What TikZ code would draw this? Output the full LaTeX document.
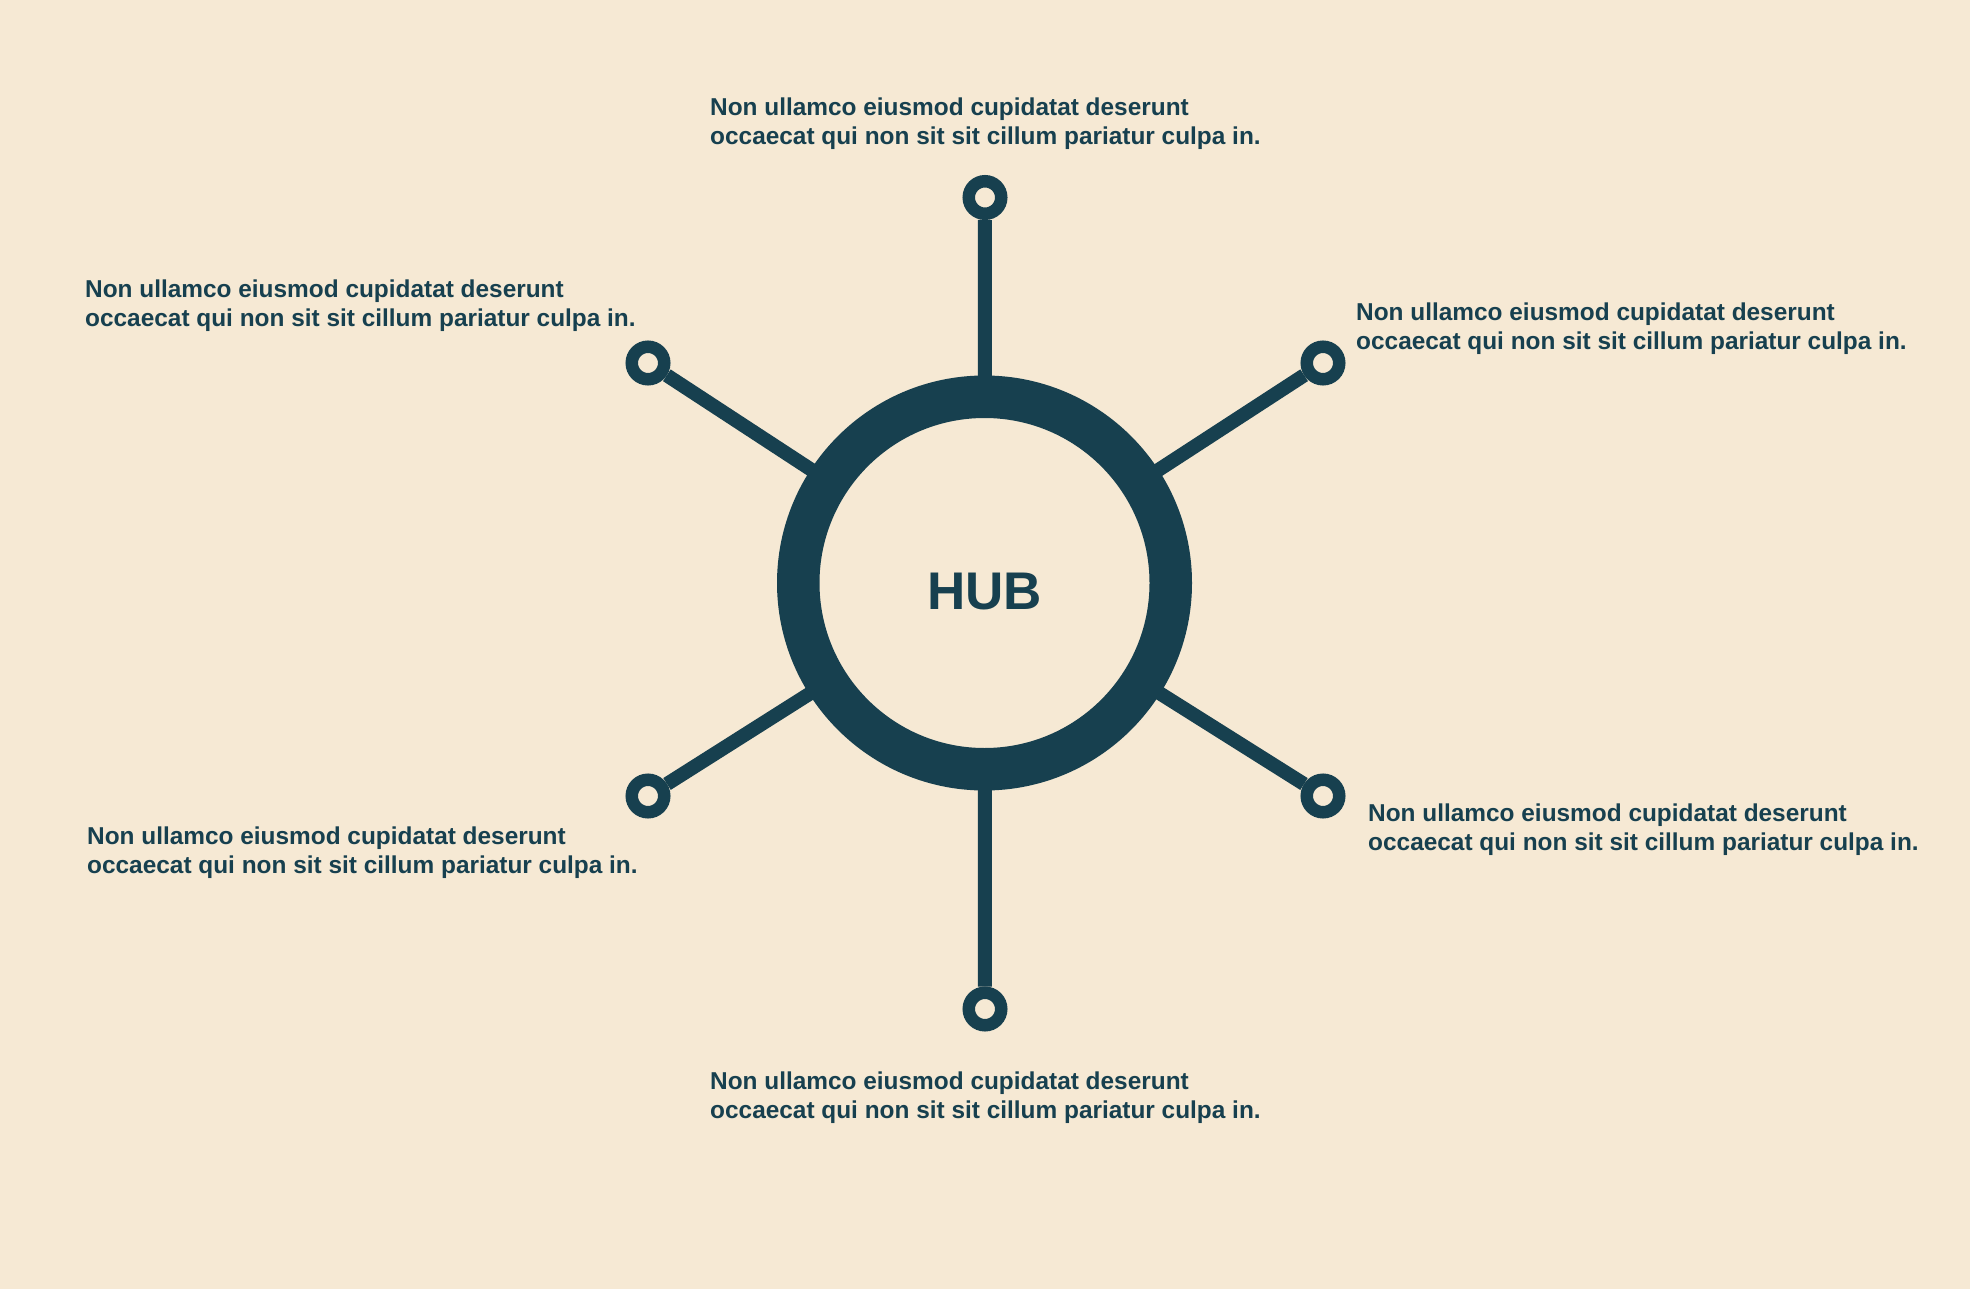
\documentclass[tikz,border=0pt]{standalone}
\usepackage{fontspec}
\setmainfont{Liberation Sans}
\definecolor{ink}{HTML}{17404F}
\definecolor{paper}{HTML}{F6E9D4}
\begin{document}
\begin{tikzpicture}[x=1pt,y=-1pt,
  hubring/.style={circle,draw=ink,fill=paper,line width=42.5pt,minimum size=372.5pt,inner sep=0pt},
  endring/.style={circle,draw=ink,fill=paper,line width=12.5pt,minimum size=32.5pt,inner sep=0pt},
  spoke/.style={draw=ink,line width=14pt},
  blurb/.style={anchor=west,align=left,text=ink,inner sep=0pt,font=\bfseries\fontsize{24.4}{29}\selectfont}]
  % canvas
  \fill[paper] (0,0) rectangle (1970,1289);
  \useasboundingbox (0,0) rectangle (1970,1289);

  % end points of the six spokes
  \node[endring] (pt) at (985,197.5) {};
  \node[endring] (pul) at (648,363) {};
  \node[endring] (pur) at (1323,363) {};
  \node[endring] (pll) at (648,796) {};
  \node[endring] (plr) at (1323,796) {};
  \node[endring] (pb) at (985,1009) {};

  % spokes, drawn beneath the hub ring
  \foreach \p in {pt,pul,pur,pll,plr,pb}
    \draw[spoke] (984.5,583) -- (\p);

  % central hub
  \node[hubring] (hub) at (984.5,583) {};
  \node[text=ink,font=\bfseries\fontsize{53}{60}\selectfont,inner sep=0pt] (hubtext) at (984.5,591.5) {HUB};

  % descriptions
  \node[blurb] (tt) at (710,124) {Non ullamco eiusmod cupidatat deserunt\\occaecat qui non sit sit cillum pariatur culpa in.};
  \node[blurb] (tul) at (85,306) {Non ullamco eiusmod cupidatat deserunt\\occaecat qui non sit sit cillum pariatur culpa in.};
  \node[blurb] (tur) at (1356,329) {Non ullamco eiusmod cupidatat deserunt\\occaecat qui non sit sit cillum pariatur culpa in.};
  \node[blurb] (tll) at (87,853) {Non ullamco eiusmod cupidatat deserunt\\occaecat qui non sit sit cillum pariatur culpa in.};
  \node[blurb] (tlr) at (1368,830) {Non ullamco eiusmod cupidatat deserunt\\occaecat qui non sit sit cillum pariatur culpa in.};
  \node[blurb] (tb) at (710,1098) {Non ullamco eiusmod cupidatat deserunt\\occaecat qui non sit sit cillum pariatur culpa in.};
\end{tikzpicture}
\end{document}
